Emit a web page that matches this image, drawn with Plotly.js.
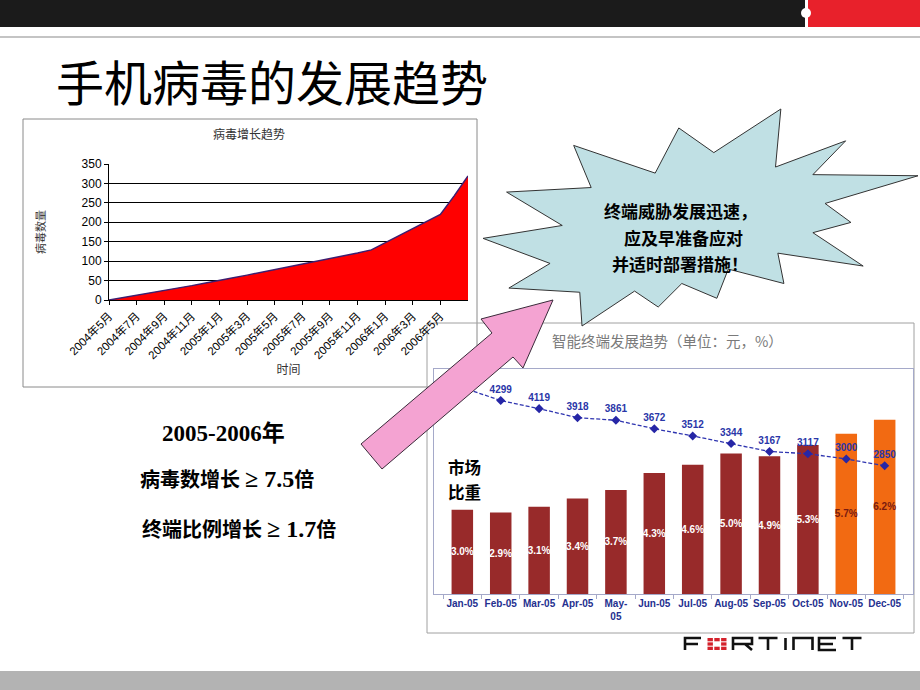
<!DOCTYPE html>
<html>
<head>
<meta charset="utf-8">
<script src="https://cdn.plot.ly/plotly-3.0.1.min.js"></script>
<style>html,body{margin:0;padding:0;background:#fff;}#chart{width:920px;height:690px;}</style>
</head>
<body>
<div id="chart"></div>
<script>
// ---------- data ----------
const virusMonths = ['2004年5月','2004年6月','2004年7月','2004年8月','2004年9月','2004年10月','2004年11月','2004年12月',
  '2005年1月','2005年2月','2005年3月','2005年4月','2005年5月','2005年6月','2005年7月','2005年8月','2005年9月',
  '2005年10月','2005年11月','2005年12月','2006年1月','2006年2月','2006年3月','2006年4月','2006年5月','2006年6月','2006年7月'];
const virusCounts = [0, 6, 12, 19, 25, 31, 37, 44, 50, 57, 64, 71, 78, 86, 93, 100, 107, 114, 121, 129, 147, 165, 183, 201, 220, 268, 319];
const virusTickLabels = ['2004年5月','2004年7月','2004年9月','2004年11月','2005年1月','2005年3月','2005年5月',
  '2005年7月','2005年9月','2005年11月','2006年1月','2006年3月','2006年5月'];

const phoneMonths = ['Jan-05','Feb-05','Mar-05','Apr-05','May-05','Jun-05','Jul-05','Aug-05','Sep-05','Oct-05','Nov-05','Dec-05'];
const phoneTickText = ['Jan-05','Feb-05','Mar-05','Apr-05','May-<br>05','Jun-05','Jul-05','Aug-05','Sep-05','Oct-05','Nov-05','Dec-05'];
const marketShare = [3.0, 2.9, 3.1, 3.4, 3.7, 4.3, 4.6, 5.0, 4.9, 5.3, 5.7, 6.2];
const avgPrice = [4590, 4299, 4119, 3918, 3861, 3672, 3512, 3344, 3167, 3117, 3000, 2850];

// ---------- helpers ----------
const W = 920, H = 690;
const px = x => x / W;
const py = y => 1 - y / H;
function rect(x0, y0, x1, y1, o) {
  return Object.assign({type:'rect', xref:'paper', yref:'paper', x0:px(x0), x1:px(x1), y0:py(y1), y1:py(y0)}, o);
}
function poly(pts, o) {
  const d = pts.map((p, i) => (i ? 'L' : 'M') + px(p[0]).toFixed(5) + ',' + py(p[1]).toFixed(5)).join(' ') + ' Z';
  return Object.assign({type:'path', xref:'paper', yref:'paper', path:d}, o);
}
function strokes(list, o) {
  const d = list.map(seg => seg.map((p, i) => (i ? 'L' : 'M') + px(p[0]).toFixed(5) + ',' + py(p[1]).toFixed(5)).join(' ')).join(' ');
  return Object.assign({type:'path', xref:'paper', yref:'paper', path:d, fillcolor:'rgba(0,0,0,0)'}, o);
}

const CJK = 'Noto Sans CJK SC, sans-serif';
const SERIF = 'Liberation Serif, Noto Sans CJK SC, serif';
const maroon = '#982a2a', orange = '#f26a12';

// ---------- traces ----------
const traces = [
  {
    type:'scatter', x:virusMonths, y:virusCounts, xaxis:'x', yaxis:'y',
    mode:'lines', fill:'tozeroy', fillcolor:'#ff0000',
    line:{color:'#3c1e70', width:1.5}, showlegend:false
  },
  {
    type:'bar', x:phoneMonths, y:marketShare, xaxis:'x2', yaxis:'y2',
    width:0.56,
    marker:{color:marketShare.map((v, i) => i >= 10 ? orange : maroon), line:{width:0}},
    text:marketShare.map(v => v.toFixed(1) + '%'),
    textposition:'inside', insidetextanchor:'middle', constraintext:'none', textangle:0,
    textfont:{family:'Liberation Sans, Arial', size:10, weight:'bold',
      color:marketShare.map((v, i) => i >= 10 ? '#7a1a10' : '#ffffff')},
    showlegend:false
  },
  {
    type:'scatter', x:phoneMonths, y:avgPrice, xaxis:'x2', yaxis:'y3',
    mode:'lines+markers+text',
    line:{color:'#2f35b0', width:1.3, dash:'4px,2px'},
    marker:{symbol:'diamond', size:7, color:'#2626a6'},
    text:avgPrice.map(String), textposition:'top center',
    textfont:{family:'Liberation Sans, Arial', size:10, weight:'bold', color:'#2a36a8'},
    cliponaxis:false, showlegend:false
  }
];

// ---------- decorations ----------
const sealPts = [[9722,1887],[8550,6382],[4502,3625],[5372,7817],[1172,8270],[3935,11592],[0,12877],[3330,15370],
  [1285,17825],[4805,18240],[4917,21600],[7527,18125],[8700,19712],[9872,17370],[11612,18842],[12180,15935],
  [14942,17370],[14640,14350],[18877,15632],[16380,12310],[18270,11290],[16985,9402],[21600,6645],[16380,6532],
  [18007,3172],[14525,5777],[14790,0],[11462,4342]];
const sealBox = {x0:483, y0:109, x1:918, y1:326};
const seal = sealPts.map(p => [sealBox.x0 + p[0] / 21600 * (sealBox.x1 - sealBox.x0), sealBox.y0 + p[1] / 21600 * (sealBox.y1 - sealBox.y0)]);

const arrow = [[553,300],[523,368],[513,357],[382,469],[361,444],[492,333],[481,319]];

const shapes = [
  rect(0, 0, 805, 27, {fillcolor:'#1b1b1b', line:{width:0}, layer:'below'}),
  rect(808, 0, 920, 27, {fillcolor:'#e8212b', line:{width:0}, layer:'below'}),
  {type:'circle', xref:'paper', yref:'paper', x0:px(801), x1:px(811), y0:py(18), y1:py(8), fillcolor:'#ffffff', line:{width:0}, layer:'below'},
  {type:'line', xref:'paper', yref:'paper', x0:0, x1:1, y0:py(37), y1:py(37), line:{color:'#c4c4c4', width:2}, layer:'below'},
  rect(0, 671, 920, 690, {fillcolor:'#b3b3b3', line:{width:0}, layer:'below'}),
  rect(23, 119, 477, 387, {line:{color:'#8a8a8a', width:1}, fillcolor:'rgba(0,0,0,0)', layer:'below'}),
  rect(427, 323, 914, 633, {line:{color:'#a0a0a0', width:1}, fillcolor:'rgba(0,0,0,0)', layer:'below'}),
  poly(seal, {fillcolor:'#c0e0e4', line:{color:'#333333', width:1}, layer:'above'}),
  poly(arrow, {fillcolor:'#f4a3d2', line:{color:'#3a2a3a', width:1}, layer:'above'}),
  strokes([
    [[685,650],[685,638],[701,638]], [[685,644],[698,644]],
    [[733,650],[733,638],[752,638],[752,644],[733,644]], [[745,644],[752,650]],
    [[758.5,638],[777.5,638]], [[768,638],[768,650]],
    [[785.5,638],[785.5,650]],
    [[793.5,650],[793.5,638],[812.5,638],[812.5,650]],
    [[836,638],[819,638],[819,650],[836,650]], [[819,644],[833,644]],
    [[842.5,638],[861.5,638]], [[852,638],[852,650]]
  ], {line:{color:'#111111', width:2.6}, layer:'above'})
];
[707.5, 714.3, 721.1].forEach((cx, ci) => {
  [638, 642.35, 646.7].forEach((cy, ri) => {
    if (ci === 1 && ri === 1) return;
    shapes.push(rect(cx, cy, cx + 5.4, cy + 3.3, {fillcolor:'#d4222c', line:{width:0}, layer:'above'}));
  });
});

function note(text, x, y, font, extra) {
  return Object.assign({xref:'paper', yref:'paper', x:px(x), y:py(y), xanchor:'center', yanchor:'middle',
    text:text, showarrow:false, font:font}, extra || {});
}

const annotations = [
  note('病毒增长趋势', 249, 133, {family:CJK, size:12, color:'#333333'}),
  note('智能终端发展趋势（单位：元，%）', 667, 340, {family:CJK, size:14.5, color:'#7a7a7a'}),
  note('市场', 464, 467, {family:CJK, size:16.5, color:'#000000', weight:'bold'}, {borderpad:0}),
  note('比重', 464, 492, {family:CJK, size:16.5, color:'#000000', weight:'bold'}, {borderpad:0}),
  note('2005-2006年', 223, 433, {family:SERIF, size:23, color:'#000', weight:'bold'}),
  note('病毒数增长 <span style="font-size:24px">≥ 7.5</span>倍', 227, 479, {family:SERIF, size:20, color:'#000', weight:'bold'}),
  note('终端比例增长 <span style="font-size:24px">≥ 1.7</span>倍', 239, 529, {family:SERIF, size:20, color:'#000', weight:'bold'}),
  note('终端威胁发展迅速，', 680, 210, {family:CJK, size:17, color:'#000', weight:'bold'}),
  note('应及早准备应对', 683, 237, {family:CJK, size:17, color:'#000', weight:'bold'}),
  note('并适时部署措施！', 680, 263, {family:CJK, size:17, color:'#000', weight:'bold'})
];

const layout = {
  width:W, height:H, autosize:false,
  margin:{l:0, r:0, t:0, b:0, pad:0},
  paper_bgcolor:'#ffffff', plot_bgcolor:'#ffffff',
  showlegend:false,
  font:{family:'Liberation Sans, Arial, ' + CJK, color:'#000'},
  title:{text:'手机病毒的发展趋势', font:{family:CJK, size:48, color:'#000'},
    xref:'paper', yref:'paper', x:px(272), xanchor:'center', y:py(84), yanchor:'middle'},
  xaxis:{domain:[px(109), px(468)], anchor:'y', type:'category', range:[0, virusMonths.length - 1],
    tickvals:virusTickLabels, ticktext:virusTickLabels, tickangle:-45,
    tickfont:{family:'Liberation Sans, ' + CJK, size:11.5, color:'#000'},
    showline:true, linecolor:'#000', linewidth:1, ticks:'outside', ticklen:4, tickcolor:'#000',
    showgrid:false, zeroline:false, fixedrange:true,
    title:{text:'时间', font:{family:CJK, size:12, color:'#333'}, standoff:5}},
  yaxis:{domain:[py(300), py(164)], anchor:'x', range:[0, 350], dtick:50, tick0:0,
    showline:true, linecolor:'#000', linewidth:1, ticks:'outside', ticklen:4, tickcolor:'#000',
    gridcolor:'#000', gridwidth:1, zeroline:false, fixedrange:true,
    tickfont:{family:'Liberation Sans, Arial', size:12, color:'#000'},
    title:{text:'病毒数量', font:{family:CJK, size:11, color:'#333'}, standoff:33}},
  xaxis2:{domain:[px(434), px(913)], anchor:'y2', type:'category',
    tickvals:phoneMonths, ticktext:phoneTickText, tickangle:0,
    tickfont:{family:'Liberation Sans, Arial', size:10, color:'#24308f', weight:'bold'},
    showline:true, mirror:true, linecolor:'#a5a9c9', linewidth:1,
    ticks:'outside', tickson:'boundaries', ticklen:4, tickcolor:'#a5a9c9',
    showgrid:false, zeroline:false, fixedrange:true},
  yaxis2:{domain:[py(594), py(369)], anchor:'x2', range:[0, 8],
    showline:true, mirror:true, linecolor:'#a5a9c9', linewidth:1,
    showticklabels:false, ticks:'', showgrid:false, zeroline:false, fixedrange:true},
  yaxis3:{overlaying:'y2', anchor:'x2', side:'right', range:[0, 5000], visible:false, fixedrange:true},
  shapes:shapes,
  annotations:annotations
};

Plotly.newPlot('chart', traces, layout, {displayModeBar:false, staticPlot:true});
</script>
</body>
</html>
